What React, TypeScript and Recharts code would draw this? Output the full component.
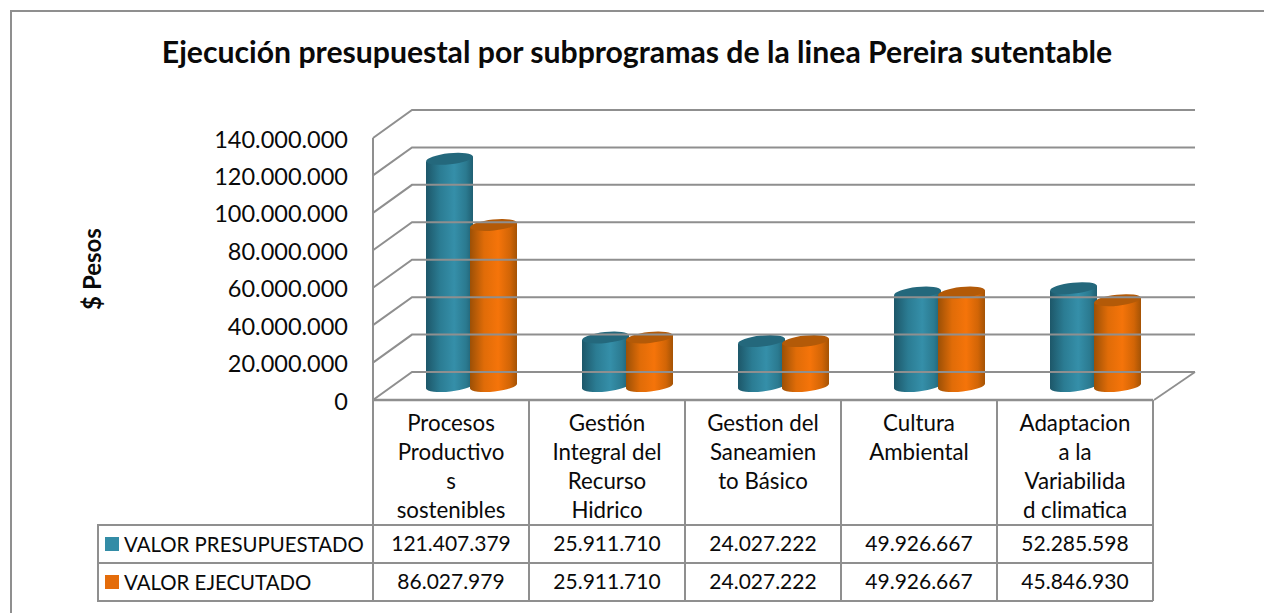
import React from 'react';
import { ComposedChart, Bar, XAxis, YAxis, Legend } from 'recharts';

const categories = [
  ['Procesos', 'Productivo', 's', 'sostenibles'],
  ['Gestión', 'Integral del', 'Recurso', 'Hidrico'],
  ['Gestion del', 'Saneamien', 'to Básico'],
  ['Cultura', 'Ambiental'],
  ['Adaptacion', 'a la', 'Variabilida', 'd climatica'],
];
const presupuestado = [121407379, 25911710, 24027222, 49926667, 52285598];
const ejecutado = [86027979, 25911710, 24027222, 49926667, 45846930];
const yTicks = [0, 20000000, 40000000, 60000000, 80000000, 100000000, 120000000, 140000000];
const seriesNames = ['VALOR PRESUPUESTADO', 'VALOR EJECUTADO'];

const data = categories.map((lines, i) => ({
  name: lines.join(' '),
  lines,
  presupuestado: presupuestado[i],
  ejecutado: ejecutado[i],
}));

const FONT = 'Lato, Carlito, Calibri, sans-serif';
const GRID = '#8f8f8f';
const TEXT = '#0a0a0a';
const fmt = (v: number) => v.toLocaleString('de-DE');

// depth of the fake 3D box, measured from the plane the bars stand on
const DX = 20;
const DY = 14;
const HALF_CAT = 78;
const WALL_RIGHT = 1195;

const YTick = (p: any) => {
  const { x, y, payload } = p;
  const fx = x - DX;
  const fy = y + DY;
  const bx = x + 19;
  const by = y - DY;
  return (
    <g>
      <polyline points={`${fx},${fy} ${bx},${by} ${WALL_RIGHT},${by}`} fill="none" stroke={GRID} strokeWidth={2} />
      {payload.value === 0 && (
        <>
          <line x1={fx} y1={fy} x2={fx} y2={fy - 262} stroke={GRID} strokeWidth={2} />
          <line x1={1154} y1={fy} x2={WALL_RIGHT} y2={by} stroke={GRID} strokeWidth={1.8} />
        </>
      )}
      <text x={348} y={fy + 9.5} textAnchor="end" fontFamily={FONT} fontSize={23.5} fill={TEXT}>
        {fmt(payload.value)}
      </text>
    </g>
  );
};

const XTick = (p: any) => {
  const { x, index } = p;
  const cx = x - DX;
  const left = cx - HALF_CAT;
  const right = cx + HALF_CAT;
  const lines: string[] = categories[index];
  const rows = [presupuestado[index], ejecutado[index]];
  return (
    <g>
      <line x1={left} y1={400} x2={right} y2={400} stroke={GRID} strokeWidth={2.4} />
      <line x1={left} y1={525} x2={right} y2={525} stroke={GRID} strokeWidth={2} />
      <line x1={left} y1={563} x2={right} y2={563} stroke={GRID} strokeWidth={2} />
      <line x1={left} y1={601} x2={right} y2={601} stroke={GRID} strokeWidth={2} />
      <line x1={left} y1={400} x2={left} y2={601} stroke={GRID} strokeWidth={2} />
      <line x1={right} y1={400} x2={right} y2={601} stroke={GRID} strokeWidth={2} />
      {lines.map((t, i) => (
        <text key={i} x={cx} y={431 + i * 29} textAnchor="middle" fontFamily={FONT} fontSize={22.3} fill={TEXT}>
          {t}
        </text>
      ))}
      {rows.map((v, i) => (
        <text key={i} x={cx} y={551 + i * 38} textAnchor="middle" fontFamily={FONT} fontSize={21} fill={TEXT}>
          {fmt(v)}
        </text>
      ))}
    </g>
  );
};

const Cylinder = (colorId: string, capColor: string) => (p: any) => {
  const { x, y, width, height } = p;
  const rx = width / 2;
  const ry = 5.5;
  const tilt = 2.6;
  const bottom = y + height;
  const d = `M${x},${y + tilt} L${x + width},${y - tilt} L${x + width},${bottom - tilt} A${rx},${ry} -6 0 1 ${x},${bottom + tilt} Z`;
  return (
    <g>
      <path d={d} fill={`url(#${colorId})`} />
      <ellipse cx={x + rx} cy={y} rx={rx} ry={ry} fill={capColor} transform={`rotate(-6 ${x + rx} ${y})`} />
    </g>
  );
};

const LegendTable = (p: any) => {
  const items = p.payload || [];
  return (
    <div style={{ width: 276, fontFamily: FONT, fontSize: 20.4, color: TEXT }}>
      {items.map((it: any, i: number) => (
        <div
          key={i}
          style={{
            height: 38,
            boxSizing: 'border-box',
            borderLeft: `2px solid ${GRID}`,
            display: 'flex',
            alignItems: 'center',
            paddingLeft: 6,
            whiteSpace: 'nowrap',
          }}
        >
          <span style={{ width: 14, height: 14, background: it.color, marginRight: 5, flex: 'none' }} />
          {it.value}
        </div>
      ))}
    </div>
  );
};

export default function App() {
  return (
    <div style={{ position: 'absolute', left: 0, top: 0, width: 1264, height: 613, overflow: 'hidden', background: '#fff' }}>
      <div style={{ position: 'absolute', left: 10, top: 10, width: 1300, height: 700, border: `2px solid ${GRID}` }} />
      <div
        style={{
          position: 'absolute',
          left: 0,
          top: 33,
          width: 1274,
          textAlign: 'center',
          fontFamily: FONT,
          fontWeight: 700,
          fontSize: 30.2,
          lineHeight: '36px',
          color: TEXT,
          whiteSpace: 'nowrap',
        }}
      >
        Ejecución presupuestal por subprogramas de la linea Pereira sutentable
      </div>
      <div style={{ position: 'absolute', left: 0, top: 0 }}>
        <ComposedChart
          width={1264}
          height={613}
          data={data}
          margin={{ top: 124, right: 91, bottom: 0, left: 0 }}
          barSize={47}
          barGap={-3}
        >
          <defs>
            <linearGradient id="tealGrad" x1="0" y1="0" x2="1" y2="0">
              <stop offset="0" stopColor="#1d5769" />
              <stop offset="0.3" stopColor="#2b7c93" />
              <stop offset="0.6" stopColor="#358fa9" />
              <stop offset="0.85" stopColor="#2b7a90" />
              <stop offset="1" stopColor="#205f72" />
            </linearGradient>
            <linearGradient id="orangeGrad" x1="0" y1="0" x2="1" y2="0">
              <stop offset="0" stopColor="#9c5006" />
              <stop offset="0.3" stopColor="#e06c08" />
              <stop offset="0.6" stopColor="#f5740a" />
              <stop offset="0.85" stopColor="#d26506" />
              <stop offset="1" stopColor="#a45305" />
            </linearGradient>
          </defs>
          <XAxis dataKey="name" axisLine={false} tickLine={false} height={227} interval={0} tick={XTick} />
          <YAxis
            width={393}
            domain={[0, 140000000]}
            ticks={yTicks}
            axisLine={false}
            tickLine={false}
            tickSize={0}
            tickMargin={0}
            tick={YTick}
            label={{
              value: '$ Pesos',
              angle: -90,
              position: 'insideLeft',
              offset: 92,
              dy: 14,
              style: { fontFamily: FONT, fontWeight: 700, fontSize: 24, fill: TEXT, textAnchor: 'middle' },
            }}
          />
          <Legend
            layout="vertical"
            align="center"
            verticalAlign="middle"
            itemSorter={null}
            wrapperStyle={{ left: 97, top: 525, width: 276 }}
            content={LegendTable}
          />
          <Bar dataKey="presupuestado" name={seriesNames[0]} fill="#338ca6" isAnimationActive={false} shape={Cylinder('tealGrad', '#24687c')} />
          <Bar dataKey="ejecutado" name={seriesNames[1]} fill="#e46c0a" isAnimationActive={false} shape={Cylinder('orangeGrad', '#b35a08')} />
        </ComposedChart>
      </div>
      <svg width={1264} height={613} style={{ position: 'absolute', left: 0, top: 0, pointerEvents: 'none' }}>
        <line x1={97} y1={525} x2={373} y2={525} stroke={GRID} strokeWidth={2} />
        <line x1={97} y1={563} x2={373} y2={563} stroke={GRID} strokeWidth={2} />
        <line x1={97} y1={601} x2={373} y2={601} stroke={GRID} strokeWidth={2} />
      </svg>
    </div>
  );
}
